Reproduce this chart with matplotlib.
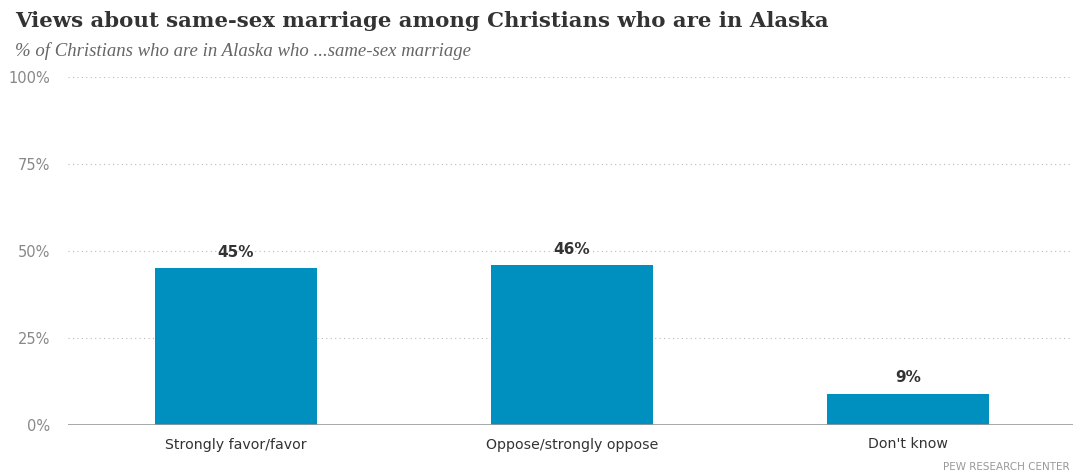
import matplotlib
matplotlib.use("Agg")
import matplotlib.pyplot as plt

categories = ["Strongly favor/favor", "Oppose/strongly oppose", "Don't know"]
values = [45, 46, 9]
yticks = [0, 25, 50, 75, 100]
ytick_labels = ["0%", "25%", "50%", "75%", "100%"]

fig = plt.figure(figsize=(10.73, 4.75), dpi=100)
W, H = 1073, 475
left, right, bottom, top = 68, 1076, 425, 77
ax = fig.add_axes([left / W, 1 - bottom / H, (right - left) / W, (bottom - top) / H])

x = range(len(categories))
ax.bar(x, values, width=0.48, color="#0090c0", zorder=3)
ax.set_xlim(-0.5, 2.5)
ax.set_ylim(0, 100)

ax.set_yticks(yticks)
ax.set_yticklabels(ytick_labels, color="#888888", fontsize=10.5, family="DejaVu Sans")
ax.set_xticks(list(x))
ax.set_xticklabels(categories, color="#333333", fontsize=10.2, family="DejaVu Sans")
ax.tick_params(axis="both", length=0)
ax.tick_params(axis="y", pad=13)
ax.tick_params(axis="x", pad=9)

for y in yticks[1:]:
    ax.axhline(y, xmax=0.994, color="#bbbbbb", linestyle=(0, (1, 3)), linewidth=0.8, zorder=1)
ax.axhline(0, color="#999999", linewidth=1.2, zorder=4)

for s in ax.spines.values():
    s.set_visible(False)

for xi, v in zip(x, values):
    ax.annotate(f"{v}%", (xi, v), xytext=(0, 6), textcoords="offset points",
                ha="center", va="bottom", fontsize=11, fontweight="bold",
                color="#333333", family="DejaVu Sans")

fig.text(15 / W, 1 - 21 / H, "Views about same-sex marriage among Christians who are in Alaska",
         ha="left", va="center", fontsize=15.3, fontweight="bold", color="#333333",
         family="DejaVu Serif")
fig.text(15 / W, 1 - 51 / H, "% of Christians who are in Alaska who ...same-sex marriage",
         ha="left", va="center", fontsize=13.5, style="italic", color="#666666",
         family="Liberation Serif")
fig.text(1070 / W, 1 - 467 / H, "PEW RESEARCH CENTER", ha="right", va="center",
         fontsize=7.5, color="#999999", family="DejaVu Sans")

fig.savefig("out.png", dpi=100)
